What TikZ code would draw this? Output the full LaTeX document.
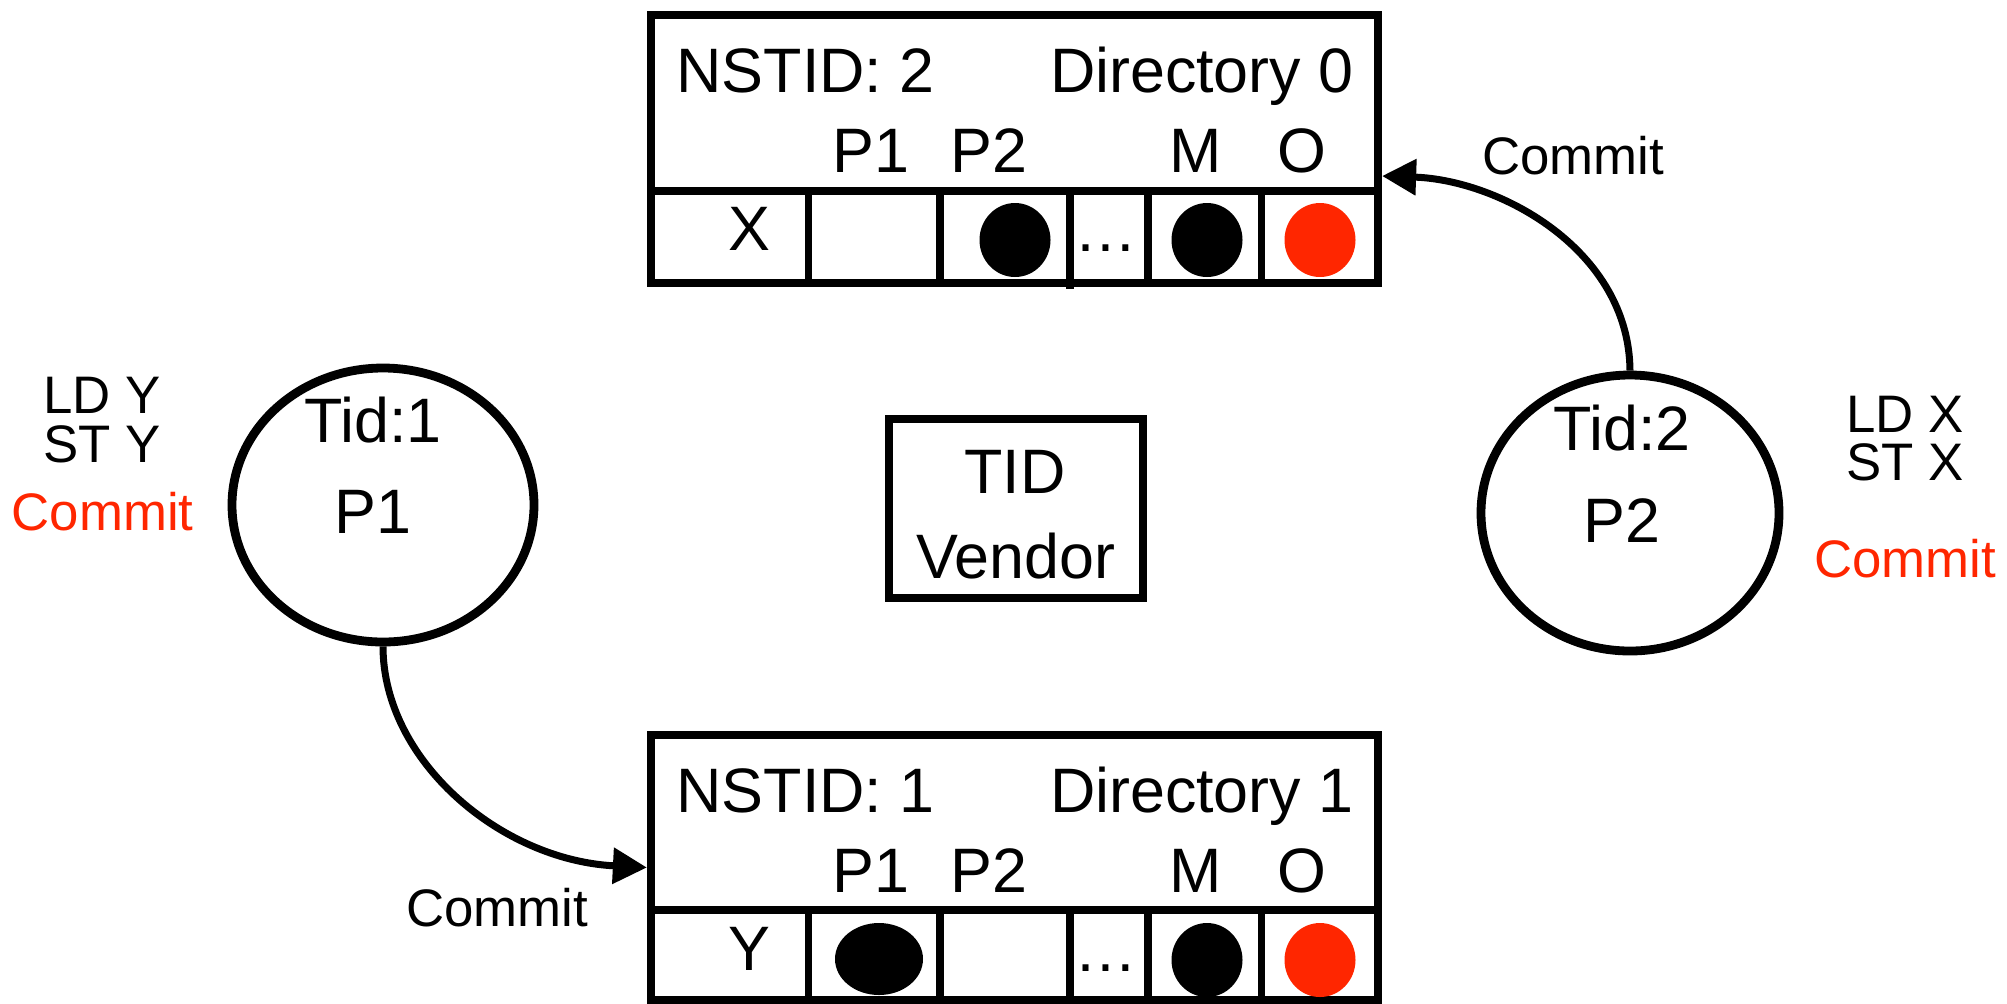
\documentclass[tikz,border=0pt]{standalone}
\usepackage{fontspec}
\setmainfont{Liberation Sans}
\usetikzlibrary{shapes.geometric,arrows.meta}
\definecolor{cred}{RGB}{255,38,0}
\begin{document}
\begin{tikzpicture}[x={(0.5pt,0)}, y={(0,-0.5pt)},
  big/.style={inner sep=0pt, anchor=base, font=\fontsize{31.4}{36}\selectfont},
  small/.style={inner sep=0pt, anchor=base, font=\fontsize{26.4}{30}\selectfont},
  dirbox/.style={draw, line width=4.1pt, minimum width=363.5pt, inner sep=0pt},
  gridline/.style={line width=3.9pt},
  proc/.style={draw, ellipse, line width=4.4pt, inner sep=0pt},
  vbox/.style={draw, rectangle, line width=3.9pt, inner sep=0pt, minimum width=127pt, minimum height=89.5pt},
  dotc/.style={ellipse, fill=black, draw=none, inner sep=0pt, minimum width=35.5pt, minimum height=37pt},
  conn/.style={line width=3.5pt, -{Triangle[length=17pt,width=17.5pt]}},
]
\useasboundingbox (0,0) rectangle (2007,1003);

% ---------- Directory 0 (top) ----------
\node[dirbox, minimum height=134pt] (dir0) at (1014.5,149) {};
\draw[gridline] (651,191) -- (1378,191);
\foreach \xx in {808.5,940,1148,1261.5} \draw[gridline] (\xx,191) -- (\xx,283);
\draw[gridline] (1070,191) -- (1070,289);
\node[big, anchor=base west] (d0id) at (676,92) {NSTID: 2};
\node[big, anchor=base east] (d0name) at (1354,92) {Directory 0};
\node[big] (d0h1) at (871,172) {P1};
\node[big] (d0h2) at (989,172) {P2};
\node[big] (d0hm) at (1196,172) {M};
\node[big] (d0ho) at (1302,172) {O};
\node[big] (d0var) at (749,250) {X};
\node[big] (d0dots) at (1106,251) {…};
\node[dotc] (d0c2) at (1015,240) {};
\node[dotc] (d0cm) at (1207,240) {};
\node[dotc, fill=cred] (d0co) at (1320,240) {};

% ---------- Directory 1 (bottom) ----------
\node[dirbox, minimum height=132.5pt] (dir1) at (1014.5,867.5) {};
\draw[gridline] (651,910) -- (1378,910);
\foreach \xx in {808.5,940,1070,1148,1261.5} \draw[gridline] (\xx,910) -- (\xx,1000);
\node[big, anchor=base west] (d1id) at (676,812) {NSTID: 1};
\node[big, anchor=base east] (d1name) at (1354,812) {Directory 1};
\node[big] (d1h1) at (871,892) {P1};
\node[big] (d1h2) at (989,892) {P2};
\node[big] (d1hm) at (1196,892) {M};
\node[big] (d1ho) at (1302,892) {O};
\node[big] (d1var) at (749,970) {Y};
\node[big] (d1dots) at (1106,971) {…};
\node[dotc, minimum width=44pt, minimum height=36pt] (d1c1) at (879,959) {};
\node[dotc] (d1cm) at (1207,960) {};
\node[dotc, fill=cred] (d1co) at (1320,960) {};

% ---------- TID Vendor ----------
\node[vbox] (vendor) at (1016,508.5) {};
\node[big] (vtid) at (1015,493) {TID};
\node[big] (vname) at (1016,578) {Vendor};

% ---------- Processor P1 ----------
\node[proc, minimum width=151pt, minimum height=137pt] (p1) at (383,505) {};
\node[big] (p1tid) at (373,442) {Tid:1};
\node[big] (p1name) at (373,533) {P1};
\node[small] (p1ld) at (102,413) {LD Y};
\node[small] (p1st) at (102,462) {ST Y};
\node[small, text=cred] (p1commit) at (102.5,530) {Commit};

% ---------- Processor P2 ----------
\node[proc, minimum width=149pt, minimum height=138pt] (p2) at (1630,513) {};
\node[big] (p2tid) at (1622,450) {Tid:2};
\node[big] (p2name) at (1622,542) {P2};
\node[small] (p2ld) at (1905,432) {LD X};
\node[small] (p2st) at (1905,480) {ST X};
\node[small, text=cred] (p2commit) at (1905,577) {Commit};

% ---------- Commit connectors ----------
\path (0,176) coordinate (h0);
\coordinate (t0) at (dir0.east |- h0);
\draw[conn] (p2.north) .. controls (1629,250) and (1500,180) .. (t0);
\node[small] (c0label) at (1573,174) {Commit};

\draw[conn] (p1.south) .. controls (383,760) and (500,860) .. (dir1.west);
\node[small] (c1label) at (497,926) {Commit};
\end{tikzpicture}
\end{document}
